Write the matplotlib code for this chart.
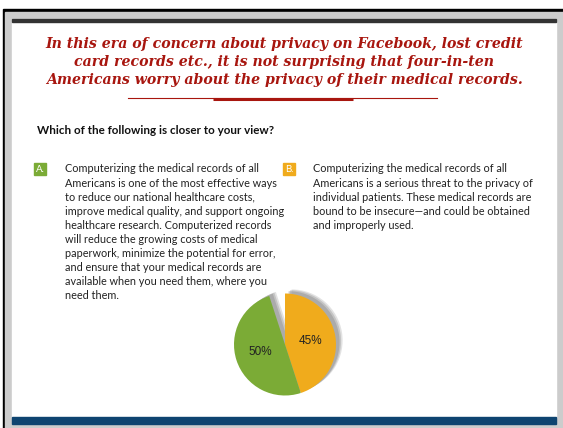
import matplotlib
matplotlib.use("Agg")
import matplotlib.pyplot as plt
from matplotlib.patches import Rectangle

# Survey results
categories = ["A", "B", "Not sure"]
shares = [50, 45, 5]
slice_colors = {"A": "#7BAB36", "B": "#F0AB1C", "Not sure": "none"}

title_lines = [
    "In this era of concern about privacy on Facebook, lost credit",
    "card records etc., it is not surprising that four-in-ten",
    "Americans worry about the privacy of their medical records.",
]
question = "Which of the following is closer to your view?"
option_a = [
    "Computerizing the medical records of all",
    "Americans is one of the most effective ways",
    "to reduce our national healthcare costs,",
    "improve medical quality, and support ongoing",
    "healthcare research. Computerized records",
    "will reduce the growing costs of medical",
    "paperwork, minimize the potential for error,",
    "and ensure that your medical records are",
    "available when you need them, where you",
    "need them.",
]
option_b = [
    "Computerizing the medical records of all",
    "Americans is a serious threat to the privacy of",
    "individual patients. These medical records are",
    "bound to be insecure\u2014and could be obtained",
    "and improperly used.",
]

W, H = 563, 428
fig = plt.figure(figsize=(W / 100, H / 100), dpi=100)
bg = fig.add_axes([0, 0, 1, 1])
bg.set_xlim(0, W)
bg.set_ylim(H, 0)
bg.axis("off")

# Frame
bg.add_patch(Rectangle((0, 0), W, H, color="white", zorder=0))
bg.add_patch(Rectangle((3, 9), W - 3, H - 9, color="black", zorder=1))
bg.add_patch(Rectangle((5, 11.5), W - 5, H - 11.5, color="#CCCCCC", zorder=2))
bg.add_patch(Rectangle((12, 19), 544, 399, color="white", zorder=3))
bg.add_patch(Rectangle((12, 19), 544, 3, color="#333333", zorder=4))
bg.add_patch(Rectangle((12, 417), 544, 7, color="#0E4470", zorder=4))

# Headline
title_color = "#A8160F"
for i, line in enumerate(title_lines):
    bg.text(284, 44 + i * 18, line, ha="center", va="center",
            family="DejaVu Serif", style="italic", weight="bold",
            fontsize=10.2, color=title_color, zorder=5)
bg.plot([128, 437], [97.5, 97.5], color=title_color, lw=0.8, zorder=5)
bg.plot([213, 353], [98.5, 98.5], color=title_color, lw=2.2, zorder=5,
        solid_capstyle="butt")

# Question
bg.text(37, 130, question, ha="left", va="center", family="Lato",
        weight="bold", fontsize=8.4, color="#111111", zorder=5)

text_kw = dict(ha="left", va="center", family="Lato", fontsize=7.85,
               color="#222222", zorder=5)
line_h = 14.1

def badge(x, y, letter, color):
    bg.add_patch(Rectangle((x, y - 6), 12, 12, facecolor=color,
                           edgecolor=color, zorder=5))
    bg.text(x + 6, y, letter + ".", ha="center", va="center", family="Lato",
            fontsize=7, color="white", zorder=6)

badge(34, 169, "A", slice_colors["A"])
for i, line in enumerate(option_a):
    bg.text(65, 169 + i * line_h, line, **text_kw)

badge(283, 169, "B", slice_colors["B"])
for i, line in enumerate(option_b):
    bg.text(313, 169 + i * line_h, line, **text_kw)

# Pie chart
cx, cy, r = 285, 344.5, 51
pax = fig.add_axes([(cx - r) / W, (H - cy - r) / H, 2 * r / W, 2 * r / H])
order = ["B", "A", "Not sure"]
vals = [shares[categories.index(c)] for c in order]
cols = [slice_colors[c] for c in order]

# soft drop shadow, offset up and to the right
for dx, dy, a in [(0.13, 0.08, 0.25), (0.10, 0.065, 0.35), (0.07, 0.045, 0.45)]:
    shade = ["#8E8E8E" if c != "none" else "none" for c in cols]
    pax.pie(vals, colors=shade, startangle=90, counterclock=False,
            center=(dx, dy),
            wedgeprops=dict(linewidth=0, alpha=a, clip_on=False))

wedges, _, autotexts = pax.pie(
    vals, colors=cols, startangle=90, counterclock=False,
    autopct=lambda p: f"{p:.0f}%" if p > 10 else "", pctdistance=0.5,
    textprops=dict(family="Liberation Sans", fontsize=8.5, color="#222222"),
    wedgeprops=dict(linewidth=0, clip_on=False),
)
pax.set_aspect("equal")
pax.set_xlim(-1, 1)
pax.set_ylim(-1, 1)
pax.axis("off")
for t in autotexts:
    t.set_zorder(5)

fig.savefig("out.png", dpi=100)
